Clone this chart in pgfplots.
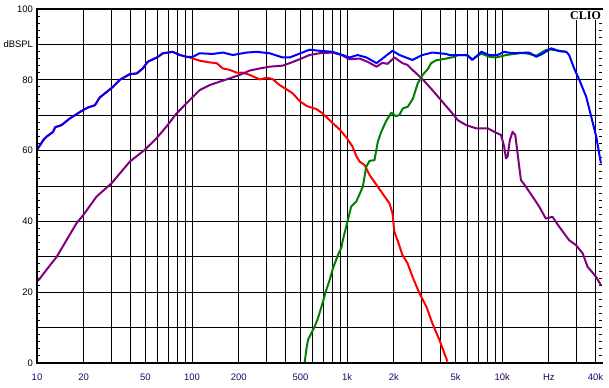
\documentclass[border=0pt]{standalone}
\usepackage{fontspec}
\setmainfont{Liberation Sans}
\newfontfamily\cliofont{Liberation Serif}
\usepackage{pgfplots}
\pgfplotsset{compat=1.18}
\definecolor{cblue}{RGB}{0,0,255}
\definecolor{cred}{RGB}{255,0,0}
\definecolor{cgreen}{RGB}{0,128,0}
\definecolor{cpurple}{RGB}{128,0,128}
\definecolor{labnavy}{RGB}{40,0,100}
\begin{document}
\begin{tikzpicture}
\path[use as bounding box] (-37bp,-25bp) rectangle (572bp,363bp);
\begin{axis}[
  at={(0,0)}, anchor=south west,
  scale only axis, width=565bp, height=354bp,
  xmode=log, xmin=10, xmax=44000, ymin=0, ymax=100,
  xtick={10,20,30,40,50,60,70,80,90,100,200,300,400,500,600,700,800,900,1000,2000,3000,4000,5000,6000,7000,8000,9000,10000,20000,30000,40000},
  xticklabels={10,20,,,50,,,,,100,200,,,500,,,,,1k,2k,,,5k,,,,,10k,Hz,,40k},
  minor xtick={},
  ytick={0,10,...,100},
  yticklabels={0,,20,,40,,60,,80,dBSPL,100},
  minor y tick num=4,
  grid=major,
  major grid style={black, line width=0.95bp},
  axis line style={draw=none},
  major tick length=0pt,
  minor tick length=3.5bp,
  tick align=inside,
  minor tick style={black, line width=0.9bp},
  xticklabel style={font=\fontsize{9.5}{11}\selectfont, text=labnavy, yshift=-7.5bp},
  yticklabel style={font=\fontsize{9.5}{11}\selectfont, text=black, xshift=-0.5bp},
  every axis plot/.append style={line width=2bp, line join=round},
]
\addplot[cred] coordinates {
(10,60.2)(11,63)(11.5,63.9)(12.7,65.3)(13.1,66.6)(14.4,67.2)(16.3,69.1)(19.9,71.5)(21.4,72.2)(23.6,72.8)(25.4,75)(28,76.5)(30.9,78)(34.2,80)(35.8,80.5)(39.7,81.6)(44,81.8)(48.1,83.2)(51.8,85.1)(59.3,86.3)(64.9,87.5)(75,87.9)(83.3,87)(92.2,86.5)
(96.6,86.3)(112,85.4)(130,84.9)(144,84.7)(158,83.2)(175,82.8)(194,82)(212,82)(235,81.4)(273,80.1)(303,80.6)(331,80.2)(367,78.5)(407,77.3)(445,76.2)(494,74)(548,72.6)(635,71.7)(695,70.5)(805,67.8)(893,66)(990,63.7)(1083,61.1)(1151,58.3)(1203,56.9)(1295,55.9)(1394,53.1)(1547,50.3)(1690,47.9)(1875,45.1)(1960,42.3)(2017,37)(2112,34.7)(2274,30.5)(2450,28.2)(2637,24.4)(2924,19.7)(3244,15.9)(3545,11.2)(3937,6.5)(4433,0.4)
};
\addplot[cpurple] coordinates {
(10,23)(10.45,23.9)(11.5,26.3)(13.4,30)(15.5,34.7)(18,39.5)(19.9,41.8)(24.2,47)(30.3,50.8)(39.7,56.9)(49.5,60.2)(59,63.5)(68.4,66.8)(79.4,70.5)(96.6,74.3)(112,77.1)(130,78.5)(151,79.5)(175,80.4)(203,81.4)(235,82.6)(273,83.2)(316,83.7)(384,84)(426,84.7)(494,85.8)(572,87)(664,87.5)(805,87.7)(920,87)(1036,85.8)(1203,86)(1353,85.1)(1547,83.7)(1690,84.8)(1820,84.5)(2017,86.3)(2274,84.7)(2450,84.2)(2637,82.8)(3058,80.2)(3545,77.1)(4111,73.8)(4770,70.5)(5166,68.6)(5852,67.2)(6776,66.3)(8054,66.3)(8892,65.3)(9821,64.4)(10300,61.1)(10570,57.8)(10830,58.3)(11200,63)(11670,65.3)(12140,64.4)(12560,59.2)(13200,51.7)(14200,49.8)(15700,47)(17300,44.2)(19100,40.8)(21100,41.3)(23300,38.5)(27000,34.7)(29900,33.3)(33000,31)(35500,27.2)(40200,24.4)(43300,22)
};
\addplot[cgreen] coordinates {
(532,0)(545,3.7)(559,6.5)(587,8.4)(617,10.3)(648,12.6)(698,17.3)(733,20.6)(771,23.4)(809,26.7)(872,30.5)(916,32.5)(938,34.7)(986,38.5)(1062,44.2)(1145,45.6)(1262,49.8)(1327,55.4)(1394,57.1)(1500,57.3)(1577,62.5)(1659,65.3)(1787,68.4)(1925,70.7)(2072,69.7)(2175,70.1)(2285,71.9)(2462,72.4)(2651,74.6)(2853,79)(3071,81.4)(3309,83)(3478,84.7)(3746,85.5)(4348,86)(4918,86.5)(5166,87)(5852,87)(6420,85.8)(7330,87.4)(8260,86.5)(9128,86.3)(10600,87)(12900,87.5)(14200,87.5)(16600,86.8)(19100,88.4)(20100,88.6)(23300,88.2)(25700,87.9)
};
\addplot[cblue] coordinates {
(10,60.2)(11,63)(11.5,63.9)(12.7,65.3)(13.1,66.6)(14.4,67.2)(16.3,69.1)(19.9,71.5)(21.4,72.2)(23.6,72.8)(25.4,75)(28,76.5)(30.9,78)(34.2,80)(35.8,80.5)(39.7,81.6)(44,81.8)(48.1,83.2)(51.8,85.1)(59.3,86.3)(64.9,87.5)(75,87.9)(83.3,87)(92.2,86.5)(101,86.5)(112,87.5)(136,87.3)(158,87.7)(183,87)(225,87.7)(261,87.9)(316,87.5)(384,86.3)(426,86.3)(494,87.4)(572,88.5)(664,88.2)(805,87.9)(934,87)(1036,86.3)(1167,87)(1333,86.3)(1547,84.7)(1690,86)(1960,88.2)(2175,87)(2637,85.6)(3058,87)(3545,87.7)(4365,87.3)(4560,87)(5530,87)(5960,87)(6420,85.6)(7330,87.9)(8260,87)(9300,87)(10300,87.9)(11600,87.5)(14900,87.7)(16600,86.5)(18100,87.3)(20700,88.9)(23300,88.1)(25900,87.9)(27000,87)(29100,83.2)(31400,80)(34800,75.2)(38000,68.6)(40400,63.9)(43300,56.4)
};
\end{axis}
\node[anchor=north east, fill=white, inner sep=1bp, font=\cliofont\bfseries\fontsize{12}{12}\selectfont] at ([yshift=-1bp]current axis.north east) {CLIO};
\draw[line width=2.6bp, black, line cap=rect] (current axis.south east) -- (current axis.south west) -- (current axis.north west) -- (current axis.north east);
\end{tikzpicture}
\end{document}
